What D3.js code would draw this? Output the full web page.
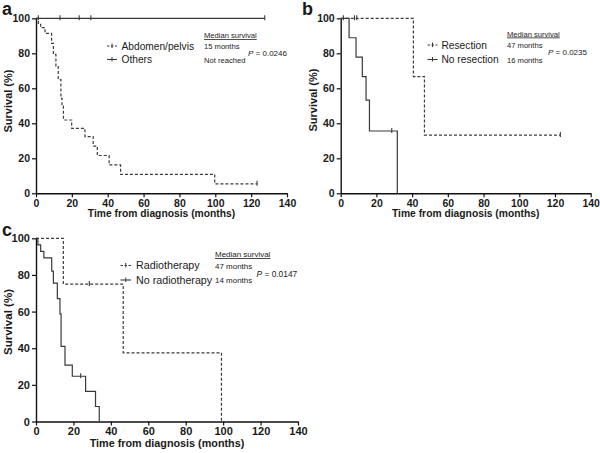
<!DOCTYPE html>
<html><head><meta charset="utf-8">
<script src="https://cdn.jsdelivr.net/npm/d3@7"></script>
<style>
body{margin:0;background:#fff}
svg{display:block}
text{font-family:"Liberation Sans",Arial,sans-serif;fill:#1a1a1a}
</style>
</head><body>
<svg id="chart" width="600" height="453"></svg>
<script>
// ---- shared tick labels ----
const xTicks = [0, 20, 40, 60, 80, 100, 120, 140];
const yTicks = [0, 20, 40, 60, 80, 100];
const xTitle = "Time from diagnosis (months)";
const yTitle = "Survival (%)";

// ---- panel a ----
const aNames = ["Abdomen/pelvis", "Others"];
const aMedians = ["15 months", "Not reached"];
const aP = "0.0246";
const aAbdTime = [0, 1.3, 2.6, 5.0, 8.7, 9.7, 11.1, 12.4, 13.9, 14.5, 15.3, 19.9, 27.3, 31.9, 34.2, 40.8, 47.2, 99.7, 123.3];
const aAbdSurv = [100, 97.1, 94.7, 91.4, 85.7, 79.4, 72.4, 65.0, 54.3, 49.9, 41.9, 37.1, 32.4, 27.0, 21.6, 16.2, 10.8, 5.4, 5.4];
const aAbdCens = [123.3];
const aOthTime = [0, 127.6];
const aOthSurv = [100, 100];
const aOthCens = [1.3, 13.4, 24.1, 30.6, 127.6];

// ---- panel b ----
const bNames = ["Resection", "No resection"];
const bMedians = ["47 months", "16 months"];
const bP = "0.0235";
const bResTime = [0, 40.7, 46.9, 123];
const bResSurv = [100, 66.7, 33.3, 33.3];
const bResCens = [1.5, 7.7, 9.0, 123];
const bNoTime = [0, 4.7, 8.6, 12.1, 14.2, 16.1, 31.7];
const bNoSurv = [100, 88.9, 77.8, 66.7, 53.3, 35.6, 0];
const bNoCens = [28.6];

// ---- panel c ----
const cNames = ["Radiotherapy", "No radiotherapy"];
const cMedians = ["47 months", "14 months"];
const cP = "0.0147";
const cRadTime = [0, 14.6, 46.6, 99.1];
const cRadSurv = [100, 75, 37.5, 0];
const cRadCens = [28.5];
const cNoTime = [0, 1.0, 2.5, 4.2, 8.4, 9.3, 11.4, 12.8, 13.4, 15.5, 19.4, 26.5, 31.8, 33.8];
const cNoSurv = [100, 96.4, 92.9, 89.3, 82.1, 75.5, 67.1, 58.7, 41.0, 30.8, 24.7, 16.4, 8.2, 0];
const cNoCens = [23.9];

const svg = d3.select("#chart");
const LINE = "#3a3a3a";

function zip(t, s) { return t.map((v, i) => [v, s[i]]); }

function panel(cfg) {
  const k = cfg.k;
  const g = svg.append("g");
  const x = d3.scaleLinear().domain([0, 140]).range([cfg.x0, cfg.x1]);
  const y = d3.scaleLinear().domain([0, 100]).range([cfg.yb, cfg.yt]);

  // axes
  const ax = g.append("g").attr("transform", `translate(0,${cfg.yb})`)
    .call(d3.axisBottom(x).tickValues(xTicks).tickSize(4).tickSizeOuter(0).tickPadding(2));
  const ay = g.append("g").attr("transform", `translate(${cfg.x0},0)`)
    .call(d3.axisLeft(y).tickValues(yTicks).tickSize(4).tickSizeOuter(0).tickPadding(2));
  [ax, ay].forEach(a => {
    a.select(".domain").attr("stroke", "#111").attr("stroke-width", 1.4);
    a.selectAll(".tick line").attr("stroke", "#111").attr("stroke-width", 1.2);
    a.selectAll(".tick text").attr("font-size", 10.5 * k).attr("font-weight", "bold")
      .attr("font-family", '"Liberation Sans",Arial,sans-serif').attr("fill", "#1a1a1a");
  });

  // titles
  g.append("text").attr("x", (cfg.x0 + cfg.x1) / 2).attr("y", cfg.yb + 24 * k)
    .attr("text-anchor", "middle").attr("font-size", 10.3 * k).attr("font-weight", "bold").text(xTitle);
  g.append("text").attr("transform", `translate(${cfg.ytx},${cfg.yty}) rotate(-90)`)
    .attr("text-anchor", "middle").attr("font-size", 11 * k).attr("font-weight", "bold").text(yTitle);
  g.append("text").attr("x", cfg.lx).attr("y", cfg.ly)
    .attr("font-size", 18).attr("font-weight", "bold").text(cfg.label);

  const line = d3.line().x(d => x(d[0])).y(d => y(d[1])).curve(d3.curveStepAfter);

  function survCurve(time, surv, cens, dashed) {
    const pts = zip(time, surv);
    g.append("path").attr("d", line(pts)).attr("fill", "none").attr("stroke", LINE)
      .attr("stroke-width", 1.2).attr("stroke-dasharray", dashed ? "3,2" : null);
    // censor marks
    cens.forEach(c => {
      let s = surv[0];
      for (let i = 0; i < time.length; i++) if (time[i] <= c) s = surv[i];
      g.append("line").attr("x1", x(c)).attr("x2", x(c)).attr("y1", y(s) - 3).attr("y2", y(s) + 2)
        .attr("stroke", LINE).attr("stroke-width", 1.1);
    });
  }
  survCurve(cfg.t1, cfg.s1, cfg.c1, true);
  survCurve(cfg.t2, cfg.s2, cfg.c2, false);

  // legend
  cfg.names.forEach((n, i) => {
    const ly = cfg.legY + i * cfg.legDy;
    g.append("line").attr("x1", cfg.symX).attr("x2", cfg.symX + 10 * k).attr("y1", ly).attr("y2", ly)
      .attr("stroke", LINE).attr("stroke-width", 1.1).attr("stroke-dasharray", i === 0 ? "2.5,1.5" : null);
    g.append("line").attr("x1", cfg.symX + 5 * k).attr("x2", cfg.symX + 5 * k).attr("y1", ly - 2.5).attr("y2", ly + 2)
      .attr("stroke", LINE).attr("stroke-width", 1);
    g.append("text").attr("x", cfg.textX).attr("y", ly + 3.8 * k).attr("font-size", 10.2 * k).text(n);
  });
  g.append("text").attr("x", cfg.medX).attr("y", cfg.medY).attr("font-size", 7.6 * k)
    .attr("text-decoration", "underline").text("Median survival");
  cfg.medians.forEach((m, i) => {
    g.append("text").attr("x", cfg.medX).attr("y", cfg.legY + i * cfg.legDy + 3 * k)
      .attr("font-size", 7.6 * k).text(m);
  });
  const pt = g.append("text").attr("x", cfg.pX).attr("y", cfg.pY).attr("font-size", 8 * k);
  pt.append("tspan").attr("font-style", "italic").text("P");
  pt.append("tspan").text(" = " + cfg.p);
}

panel({label: "a", lx: 2, ly: 15, k: 1,
  x0: 36, x1: 287, yt: 18.3, yb: 193.3, ytx: 12, yty: 101,
  t1: aAbdTime, s1: aAbdSurv, c1: aAbdCens, t2: aOthTime, s2: aOthSurv, c2: aOthCens,
  names: aNames, medians: aMedians, p: aP,
  legY: 46, legDy: 13.5, symX: 107, textX: 121.5, medX: 204, medY: 38, pX: 248, pY: 56});

panel({label: "b", lx: 302, ly: 15, k: 1,
  x0: 340.7, x1: 590.7, yt: 18.3, yb: 193.3, ytx: 317, yty: 100,
  t1: bResTime, s1: bResSurv, c1: bResCens, t2: bNoTime, s2: bNoSurv, c2: bNoCens,
  names: bNames, medians: bMedians, p: bP,
  legY: 45, legDy: 14.5, symX: 427.5, textX: 441.5, medX: 507, medY: 36.5, pX: 548, pY: 55});

panel({label: "c", lx: 2, ly: 236, k: 1.05,
  x0: 36, x1: 298, yt: 238.3, yb: 421.5, ytx: 11.5, yty: 322,
  t1: cRadTime, s1: cRadSurv, c1: cRadCens, t2: cNoTime, s2: cNoSurv, c2: cNoCens,
  names: cNames, medians: cMedians, p: cP,
  legY: 265.5, legDy: 14.5, symX: 120.5, textX: 136, medX: 215, medY: 257, pX: 256.5, pY: 277});
</script>
</body></html>
